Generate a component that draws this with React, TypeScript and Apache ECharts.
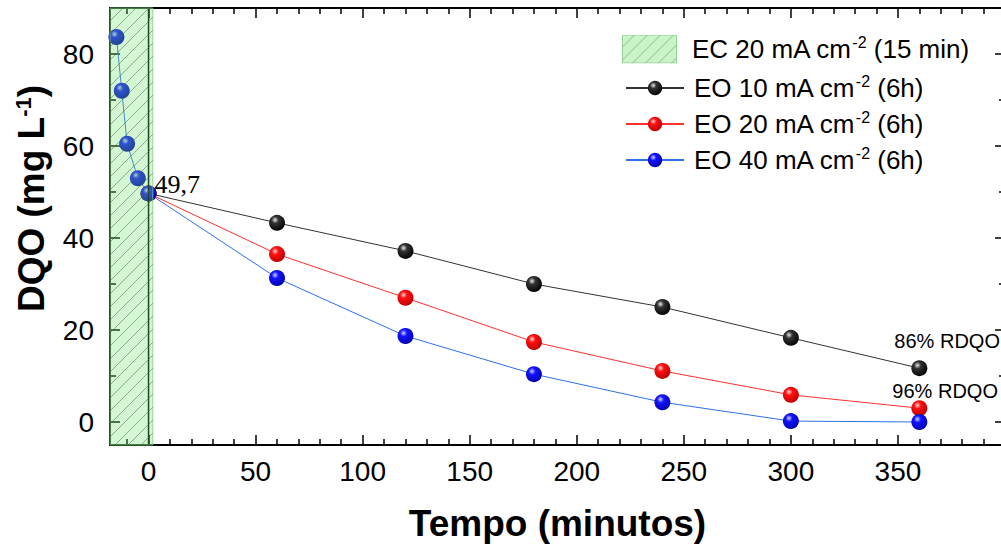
import React, { useEffect, useRef } from "react";
import * as echarts from "echarts";

// ---- data ----
const seriesNames = [
  "EC 20 mA cm-2 (15 min)",
  "EO 10 mA cm-2 (6h)",
  "EO 20 mA cm-2 (6h)",
  "EO 40 mA cm-2 (6h)",
];
const ecTime = [-15, -12.5, -10, -5, 0];
const ecDqo = [83.7, 72, 60.5, 53, 49.7];
const eoTime = [0, 60, 120, 180, 240, 300, 360];
const eo10 = [49.7, 43.3, 37.2, 30, 25, 18.3, 11.7];
const eo20 = [49.7, 36.5, 27, 17.4, 11.1, 5.9, 3];
const eo40 = [49.7, 31.3, 18.7, 10.4, 4.3, 0.2, 0];
const ecBand = [-18, 2, 0]; // band start, band end, marker line at t=0
const startLabel = "49,7";
const removal10 = "86% RDQO";
const removal20 = "96% RDQO";
const xRange = [-18, 400];
const yRange = [-5, 90];

const SANS = '"Liberation Sans", Arial, sans-serif';
const SERIF = '"Liberation Serif", "Times New Roman", serif';

const sphere = (hi: string, mid: string, dark: string) =>
  new echarts.graphic.RadialGradient(0.38, 0.32, 0.72, [
    { offset: 0, color: hi },
    { offset: 0.3, color: mid },
    { offset: 1, color: dark },
  ]);

function hatchLines(x0: number, x1: number, top: number, bottom: number, step: number) {
  const segs: number[][] = [];
  for (let c = x0 + top; c <= x1 + bottom; c += step) {
    const xa = Math.max(x0, c - bottom);
    const xb = Math.min(x1, c - top);
    if (xa < xb) segs.push([xa, c - xa, xb, c - xb]);
  }
  return segs;
}

function legendIconSvg() {
  const w = 55, h = 29;
  const lines = hatchLines(0, w, 0, h, 13)
    .map((s) => `<line x1='${s[0]}' y1='${s[1]}' x2='${s[2]}' y2='${s[3]}'/>`)
    .join("");
  const svg = `<svg xmlns='http://www.w3.org/2000/svg' width='${w}' height='${h}'><rect x='0.5' y='0.5' width='${w - 1}' height='${h - 1}' fill='#c8f4c8' stroke='#92d492'/><g stroke='#94b894' stroke-width='1'>${lines}</g></svg>`;
  return "image://data:image/svg+xml;charset=utf-8," + encodeURIComponent(svg);
}

const legendFmt = (name: string) => "{g| }" + name.replace("cm-2", "cm{sup|-2}");

export default function App() {
  const ref = useRef<HTMLDivElement>(null);

  useEffect(() => {
    if (!ref.current) return;
    const chart = echarts.init(ref.current, undefined, { renderer: "svg" });

    const blueData: any[] = ecTime.map((t, i) => [t, ecDqo[i]]);
    eoTime.forEach((t, i) => {
      if (i > 0) blueData.push([t, eo40[i]]);
    });
    const zeroIdx = ecTime.length - 1;
    blueData[zeroIdx] = {
      value: blueData[zeroIdx],
      label: {
        show: true,
        formatter: startLabel,
        position: "right",
        distance: -2,
        offset: [0, -9],
        fontFamily: SERIF,
        fontSize: 26,
        color: "#000",
      },
    };

    const black: any[] = eoTime.map((t, i) => [t, eo10[i]]);
    black[black.length - 1] = {
      value: black[black.length - 1],
      label: {
        show: true,
        formatter: removal10,
        position: "right",
        distance: 0,
        offset: [-33, -27],
        fontFamily: SANS,
        fontSize: 20,
        color: "#000",
      },
    };
    const red: any[] = eoTime.map((t, i) => [t, eo20[i]]);
    red[red.length - 1] = {
      value: red[red.length - 1],
      label: {
        show: true,
        formatter: removal20,
        position: "right",
        distance: 0,
        offset: [-35, -17],
        fontFamily: SANS,
        fontSize: 20,
        color: "#000",
      },
    };

    const tickStyle = { color: "#000", width: 1.5 };
    const baseX = {
      type: "value",
      min: xRange[0],
      max: xRange[1],
      minInterval: 50,
      maxInterval: 50,
      splitLine: { show: false },
      axisLine: { onZero: false, lineStyle: { color: "#000", width: 2 } },
      axisTick: { inside: true, length: 10, lineStyle: tickStyle },
      minorTick: { show: true, splitNumber: 5, length: 6, lineStyle: tickStyle },
    };
    const baseY = {
      type: "value",
      min: yRange[0],
      max: yRange[1],
      minInterval: 20,
      maxInterval: 20,
      splitLine: { show: false },
      axisLine: { onZero: false, lineStyle: { color: "#000", width: 2 } },
      axisTick: { inside: true, length: 10, lineStyle: tickStyle },
      minorTick: { show: true, splitNumber: 2, length: 6, lineStyle: tickStyle },
    };

    const richSup = {
      g: { width: 10, fontSize: 26, fontFamily: SANS, color: "#000", lineHeight: 30 },
      sup: { fontSize: 16, fontFamily: SANS, color: "#000", verticalAlign: "top", lineHeight: 16 },
    };

    chart.setOption({
      animation: false,
      backgroundColor: "#fff",
      grid: { left: 110, top: 8, width: 895, height: 437, containLabel: false, outerBoundsMode: "none" },
      xAxis: [
        {
          ...baseX,
          position: "bottom",
          name: "Tempo (minutos)",
          nameLocation: "middle",
          nameGap: 60,
          nameTextStyle: { fontSize: 37, fontWeight: "bold", fontFamily: SANS, color: "#000" },
          axisLabel: {
            showMinLabel: false,
            showMaxLabel: false,
            margin: 12,
            fontSize: 28,
            fontFamily: SANS,
            color: "#000",
          },
        },
        { ...baseX, position: "top", axisLabel: { show: false } },
      ],
      yAxis: [
        {
          ...baseY,
          position: "left",
          name: "DQO (mg L{sup|-1})",
          nameLocation: "middle",
          nameGap: 60,
          nameTextStyle: {
            fontSize: 37,
            fontWeight: "bold",
            fontFamily: SANS,
            color: "#000",
            lineHeight: 38,
            padding: [0, 0, 0, 56],
            rich: {
              sup: { fontSize: 22, fontWeight: "bold", fontFamily: SANS, color: "#000", verticalAlign: "top", lineHeight: 22 },
            },
          },
          axisLabel: {
            showMinLabel: false,
            showMaxLabel: false,
            margin: 16,
            fontSize: 28,
            fontFamily: SANS,
            color: "#000",
          },
        },
        { ...baseY, position: "right", axisLabel: { show: false } },
      ],
      legend: [
        {
          data: [{ name: seriesNames[0], icon: legendIconSvg() }],
          left: 622,
          top: 34,
          padding: 0,
          itemWidth: 55,
          itemHeight: 29,
          selectedMode: false,
          formatter: legendFmt,
          textStyle: { fontSize: 26, fontFamily: SANS, color: "#000", lineHeight: 30, rich: { ...richSup, g: { ...richSup.g, width: 10 } } },
        },
        {
          data: seriesNames.slice(1),
          orient: "vertical",
          left: 625,
          top: 73,
          padding: 0,
          itemWidth: 58,
          itemHeight: 18,
          itemGap: 6,
          selectedMode: false,
          formatter: legendFmt,
          textStyle: { fontSize: 26, fontFamily: SANS, color: "#000", lineHeight: 30, rich: { ...richSup, g: { ...richSup.g, width: 5 } } },
        },
      ],
      series: [
        {
          name: seriesNames[1],
          type: "line",
          data: black,
          symbol: "circle",
          symbolSize: 16,
          lineStyle: { color: "#333", width: 1 },
          itemStyle: { color: sphere("#e8e8e8", "#333", "#000") },
          z: 2,
        },
        {
          name: seriesNames[2],
          type: "line",
          data: red,
          symbol: "circle",
          symbolSize: 16,
          lineStyle: { color: "#ff3030", width: 1 },
          itemStyle: { color: sphere("#ffd6d6", "#ff1010", "#b80000") },
          z: 2,
        },
        {
          name: seriesNames[3],
          type: "line",
          data: blueData,
          symbol: "circle",
          symbolSize: 16,
          lineStyle: { color: "#2f6fe8", width: 1 },
          itemStyle: { color: sphere("#d0d0ff", "#1414ff", "#0000a8") },
          z: 3,
        },
        {
          name: seriesNames[0],
          type: "custom",
          z: 6,
          silent: true,
          itemStyle: { color: "#c8f4c8" },
          data: [ecBand],
          renderItem: (params: any, api: any) => {
            const cs = params.coordSys;
            const x0 = api.coord([api.value(0), 0])[0];
            const x1 = api.coord([api.value(1), 0])[0];
            const xl = api.coord([api.value(2), 0])[0];
            const top = cs.y;
            const bottom = cs.y + cs.height;
            const children: any[] = [
              {
                type: "line",
                shape: { x1: xl, y1: top, x2: xl, y2: bottom },
                style: { stroke: "#000", lineWidth: 1.5 },
              },
              {
                type: "rect",
                shape: { x: x0, y: top, width: x1 - x0, height: bottom - top },
                style: { fill: "rgba(110,225,110,0.3)", stroke: "rgba(120,210,120,0.8)", lineWidth: 1 },
              },
            ];
            hatchLines(x0, x1, top, bottom, 13).forEach((s) => {
              children.push({
                type: "line",
                shape: { x1: s[0], y1: s[1], x2: s[2], y2: s[3] },
                style: { stroke: "rgba(70,100,70,0.5)", lineWidth: 1 },
              });
            });
            return { type: "group", children };
          },
        },
      ],
    });

    return () => chart.dispose();
  }, []);

  return (
    <div
      ref={ref}
      style={{ position: "absolute", left: 0, top: 0, width: 1001, height: 550, background: "#fff" }}
    />
  );
}
